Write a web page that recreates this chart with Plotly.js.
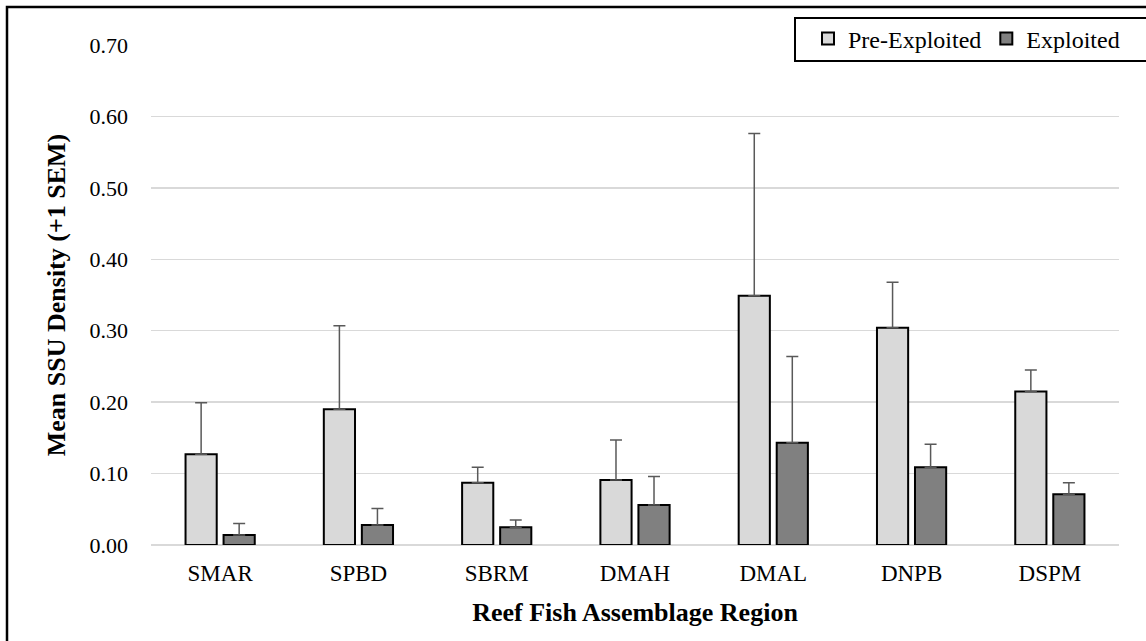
<!DOCTYPE html>
<html>
<head>
<meta charset="utf-8">
<script src="https://cdn.plot.ly/plotly-3.0.1.min.js"></script>
<style>
  html, body { margin: 0; padding: 0; background: #ffffff; }
  #chart { width: 1146px; height: 641px; }
</style>
</head>
<body>
<div id="chart"></div>
<script>
// Data
const categories = ['SMAR', 'SPBD', 'SBRM', 'DMAH', 'DMAL', 'DNPB', 'DSPM'];
const preExploited = [0.127, 0.190, 0.087, 0.091, 0.349, 0.304, 0.215];
const preExploitedSem = [0.072, 0.117, 0.022, 0.056, 0.227, 0.064, 0.030];
const exploited = [0.014, 0.028, 0.025, 0.056, 0.143, 0.109, 0.071];
const exploitedSem = [0.016, 0.023, 0.010, 0.040, 0.121, 0.032, 0.016];
const seriesNames = ['Pre-Exploited', 'Exploited'];
const yTickValues = [0, 0.1, 0.2, 0.3, 0.4, 0.5, 0.6, 0.7];

const FONT = "'Liberation Serif', 'Times New Roman', serif";

function errBar(arr) {
  return {
    type: 'data', symmetric: false, array: arr,
    arrayminus: arr.map(() => 0),
    color: '#595959', thickness: 1.5, width: 6, visible: true
  };
}

const traces = [
  {
    type: 'bar', name: seriesNames[0], x: categories, y: preExploited,
    marker: { color: '#d9d9d9', line: { color: '#000000', width: 2 } },
    error_y: errBar(preExploitedSem)
  },
  {
    type: 'bar', name: seriesNames[1], x: categories, y: exploited,
    marker: { color: '#808080', line: { color: '#000000', width: 2 } },
    error_y: errBar(exploitedSem)
  }
];

// plot area in px: left 151, right 1119, top 45, bottom 545
const L = 151, R = 1119, T = 45, B = 545;
const W = R - L, H = B - T;
const px = v => (v - L) / W;
const py = v => (B - v) / H;

const layout = {
  width: 1146, height: 641,
  paper_bgcolor: '#ffffff', plot_bgcolor: '#ffffff',
  margin: { l: L, r: 1146 - R, t: T, b: 641 - B, pad: 0 },
  barmode: 'group', bargap: 0.45, bargroupgap: 0.18,
  font: { family: FONT, color: '#000000', size: 22 },
  showlegend: true,
  legend: {
    orientation: 'h', x: px(808), y: py(39), xanchor: 'left', yanchor: 'middle',
    font: { family: FONT, size: 24, color: '#000000' },
    bgcolor: 'rgba(0,0,0,0)', borderwidth: 0, traceorder: 'normal',
    itemwidth: 30
  },
  xaxis: {
    type: 'category', showgrid: false, zeroline: false, showline: false,
    ticks: '', tickfont: { family: FONT, size: 23, color: '#000000' },
    ticklabelstandoff: 12,
    title: { text: '<b>Reef Fish Assemblage Region</b>', font: { family: FONT, size: 26, color: '#000000' }, standoff: 17 },
    automargin: true
  },
  yaxis: {
    range: [0, 0.70], tickvals: yTickValues, tickformat: '.2f',
    showgrid: true, gridcolor: '#d9d9d9', gridwidth: 1.5,
    zeroline: true, zerolinecolor: '#d9d9d9', zerolinewidth: 1.5,
    showline: false, ticks: '',
    tickfont: { family: FONT, size: 22, color: '#000000' },
    ticklabelstandoff: 22,
    title: { text: '<b>Mean SSU Density (+1 SEM)</b>', font: { family: FONT, size: 26, color: '#000000' }, standoff: 16 },
    automargin: true
  },
  shapes: [
    // outer frame (left and top visible)
    { type: 'path', xref: 'paper', yref: 'paper',
      path: `M ${px(1160)} ${py(7)} L ${px(7)} ${py(7)} L ${px(7)} ${py(660)}`,
      line: { color: '#000000', width: 2.5 } },
    // legend box
    { type: 'rect', xref: 'paper', yref: 'paper',
      x0: px(795), x1: px(1160), y0: py(61), y1: py(18),
      line: { color: '#000000', width: 2 }, fillcolor: 'rgba(255,255,255,1)', layer: 'above' }
  ]
};

Plotly.newPlot('chart', traces, layout, { displayModeBar: false, staticPlot: true });
</script>
</body>
</html>
